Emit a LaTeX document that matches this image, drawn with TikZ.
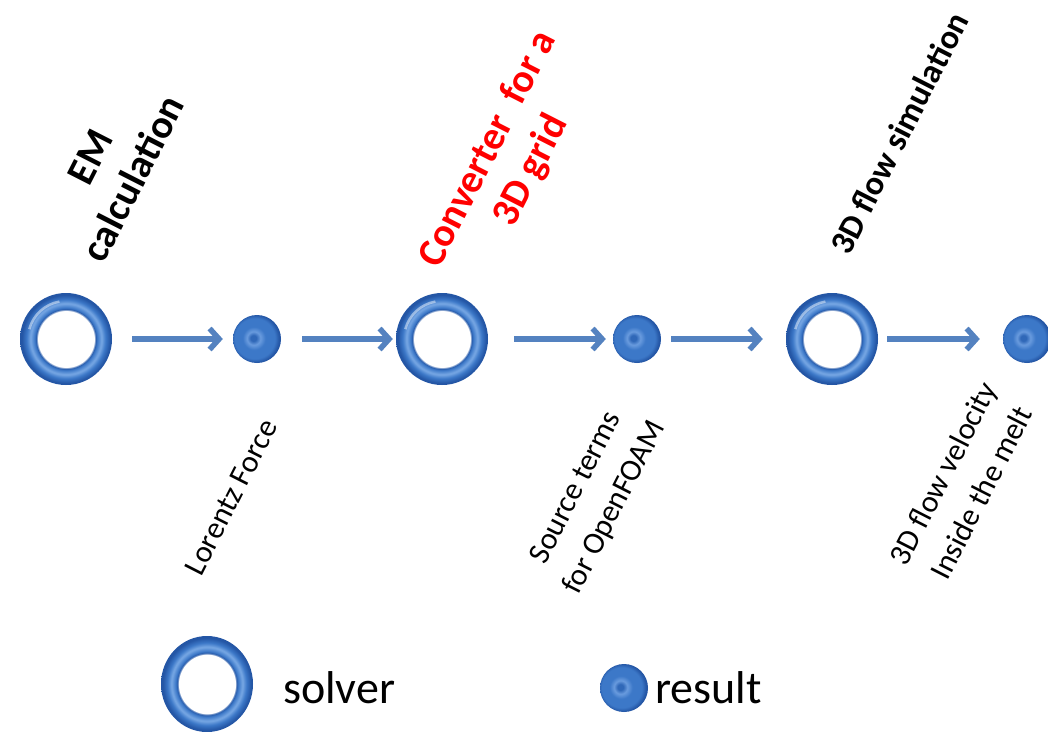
\documentclass[tikz,border=0pt]{standalone}
\usepackage{fontspec}
\setmainfont{Carlito}
\usetikzlibrary{arrows.meta,shapes.geometric}
\definecolor{arrowblue}{RGB}{84,130,192}
\definecolor{ringdark}{RGB}{36,86,165}
\definecolor{ringmid}{RGB}{60,120,200}
\definecolor{ringlight}{RGB}{120,168,228}
\definecolor{ballhi}{RGB}{105,155,222}
\definecolor{ballcore}{RGB}{48,104,184}
\definecolor{convred}{RGB}{255,0,0}
\pgfdeclareradialshading{torus}{\pgfpoint{0bp}{0bp}}{color(0bp)=(white); color(15.5bp)=(white); color(16bp)=(ringdark); color(17bp)=(ringmid); color(19.3bp)=(ringlight); color(21.5bp)=(ringmid); color(24bp)=(ringdark); color(25bp)=(ringdark); color(50bp)=(ringdark)}
\pgfdeclareradialshading{orb}{\pgfpoint{-4bp}{1bp}}{color(0bp)=(ballcore); color(3bp)=(ballcore); color(7bp)=(ballhi); color(12bp)=(ringmid); color(21bp)=(ringmid); color(25bp)=(ringdark); color(50bp)=(ringdark)}
\tikzset{
  solver/.style={circle, minimum size=92pt, inner sep=0pt, shading=torus,
    path picture={\draw[white, opacity=0.45, line width=2.5pt]
      (path picture bounding box.center) ++(-165:38) arc[start angle=-165, end angle=-100, radius=38];}},
  result/.style={circle, minimum size=48pt, inner sep=0pt, shading=orb},
  flowarrow/.style={draw=arrowblue, line width=5.5pt, -{Straight Barb[length=9.5pt,width=21pt]}},
  bigtitle/.style={font=\bfseries\fontsize{40}{48}\selectfont, align=center, rotate=63, inner sep=0pt},
  title/.style={font=\bfseries\fontsize{34}{42}\selectfont, align=center, rotate=63, inner sep=0pt},
  lbl/.style={font=\fontsize{31}{43}\selectfont, align=center, rotate=63, inner sep=0pt},
  legendtext/.style={font=\fontsize{46}{50}\selectfont, inner sep=0pt, anchor=base west}
}
\begin{document}
\begin{tikzpicture}[x=1pt,y=-1pt]
\useasboundingbox (0,0) rectangle (1048,731);
\fill[white] (0,0) rectangle (1048,731);
% chain
\node[solver] (r1) at (66,339) {};
\node[result] (b1) at (257,339) {};
\node[solver] (r2) at (442,339) {};
\node[result] (b2) at (637,339) {};
\node[solver] (r3) at (832,339) {};
\node[result] (b3) at (1027,339) {};
\draw[flowarrow, shorten <=20pt, shorten >=10pt] (r1) -- (b1);
\draw[flowarrow, shorten <=21pt, shorten >=3pt] (b1) -- (r2);
\draw[flowarrow, shorten <=26pt, shorten >=7pt] (r2) -- (b2);
\draw[flowarrow, shorten <=10pt, shorten >=23pt] (b2) -- (r3);
\draw[flowarrow, shorten <=9pt, shorten >=23pt] (r3) -- (b3);
% titles
\node[bigtitle] (t1) at (112,168) {EM\\calculation};
\node[bigtitle, text=convred] (t2) at (510,160) {Converter\ \ for a\\3D grid};
\node[title] (t3) at (899,133) {3D flow simulation};
% result labels
\node[lbl] (l1) at (231,497) {Lorentz Force};
\node[lbl] (l2) at (596,498) {Source terms\\for OpenFOAM};
\node[lbl] (l3) at (962,483) {3D flow velocity\\Inside the melt};
% legend
\node[ellipse, minimum width=92pt, minimum height=96pt, inner sep=0pt, shading=torus] (lr) at (207,684) {};
\node[result] (lb) at (624,688) {};
\node[legendtext] (ls) at (283,703) {solver};
\node[legendtext] (lt) at (655,703) {result};
\end{tikzpicture}
\end{document}
